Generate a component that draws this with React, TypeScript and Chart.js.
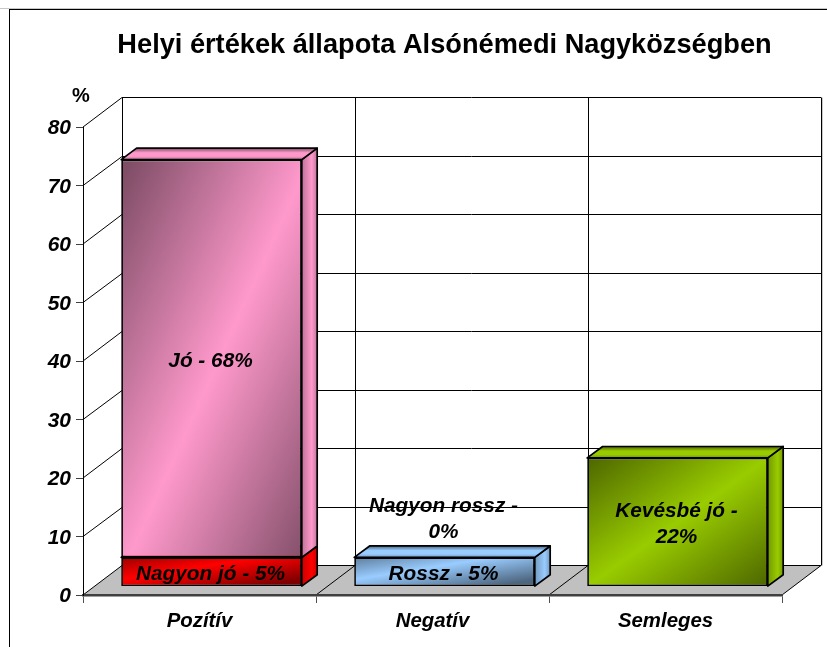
import React, { useEffect, useRef } from "react";
import { Chart, registerables } from "chart.js";

Chart.register(...registerables);

const categories = ["Pozítív", "Negatív", "Semleges"];
const yTicks = { min: 0, max: 80, step: 10 };
const chartTitle = "Helyi értékek állapota Alsónémedi Nagyközségben";
const yUnit = "%";

const nagyonJo = [5, null, null];
const jo = [68, null, null];
const rossz = [null, 5, null];
const nagyonRossz = [null, 0, null];
const kevesbeJo = [null, null, 22];

const seriesNames = ["Nagyon jó", "Jó", "Rossz", "Nagyon rossz", "Kevésbé jó"];
const seriesLabels = [["Nagyon jó - 5%"], ["Jó - 68%"], ["Rossz - 5%"], ["Nagyon rossz -", "0%"], ["Kevésbé jó -", "22%"]];
const seriesLight = ["#ff0000", "#ff99cc", "#99ccff", "#ff00ff", "#99cc00"];
const seriesDark = ["#7f0000", "#7f4d66", "#4d667f", "#7f007f", "#4d6600"];
const seriesMid = ["#cc0000", "#bf7399", "#7399bf", "#bf00bf", "#739900"];

const FONT = "'Liberation Sans', Arial, sans-serif";
// 3-D projection of the Excel-style chart
const WALL = { dx: 39, dy: -29 };
const BAR_FRONT = { dx: 12, dy: -8.4 };
const BAR_DEPTH = { dx: 15.4, dy: -11.4 };

function poly(ctx: CanvasRenderingContext2D, pts: number[][]) {
  ctx.beginPath();
  pts.forEach((p, i) => (i ? ctx.lineTo(p[0], p[1]) : ctx.moveTo(p[0], p[1])));
  ctx.closePath();
}

function antiDiagGradient(ctx: CanvasRenderingContext2D, l: number, t: number, r: number, b: number, dark: string, light: string) {
  const w = r - l, h = b - t, cx = (l + r) / 2, cy = (t + b) / 2;
  const k = (w * h) / (h * h + w * w);
  const g = ctx.createLinearGradient(cx - h * k, cy - w * k, cx + h * k, cy + w * k);
  g.addColorStop(0, dark);
  g.addColorStop(0.5, light);
  g.addColorStop(1, dark);
  return g;
}

const wallPlugin = {
  id: "wall",
  afterLayout(chart: any) {
    const tb = chart.titleBlock;
    if (tb) {
      const d = 444.5 - (tb.left + tb.right) / 2;
      tb.left += d;
      tb.right += d;
    }
  },
  beforeDraw(chart: any) {
    const { ctx, chartArea: a, scales } = chart;
    const ys = scales.y;
    ctx.save();
    ctx.fillStyle = "#ffffff";
    ctx.fillRect(0, 0, chart.width, chart.height);
    // frame
    ctx.fillStyle = "#c8c8c8";
    ctx.fillRect(0, 8, chart.width, 1);
    ctx.fillStyle = "#000000";
    ctx.fillRect(9, 9, chart.width - 9, 1);
    ctx.fillRect(9, 9, 1, chart.height - 9);

    const y0 = ys.getPixelForValue(0);
    const x0 = a.left, x1 = a.right;
    const snap = (v: number) => Math.round(v - 0.7) + 0.5;
    const topY = snap(ys.getPixelForValue(ys.max) + WALL.dy);
    const floorY = snap(y0 + WALL.dy);
    // faint line to the right of the back wall
    ctx.fillStyle = "#c8c8c8";
    ctx.fillRect(Math.round(x1 + WALL.dx) + 1, topY, 1, floorY - topY);
    // floor
    ctx.fillStyle = "#c0c0c0";
    poly(ctx, [[x0, y0], [x0 + WALL.dx, floorY], [x1 + WALL.dx, floorY], [x1, y0]]);
    ctx.fill();

    ctx.lineWidth = 1;
    ctx.strokeStyle = "#000000";
    const line = (ax: number, ay: number, bx: number, by: number) => {
      ctx.beginPath();
      ctx.moveTo(ax, ay);
      ctx.lineTo(bx, by);
      ctx.stroke();
    };
    // horizontal grid + side diagonals from the value scale
    ys.ticks.forEach((t: any) => {
      const y = ys.getPixelForValue(t.value);
      const wy = snap(y + WALL.dy);
      line(x0, y, x0 + WALL.dx, wy);
      line(x0 + WALL.dx, wy, x1 + WALL.dx, wy);
    });
    // verticals and floor diagonals from the category scale
    const step = (x1 - x0) / categories.length;
    for (let i = 0; i <= categories.length; i++) {
      const x = x0 + i * step;
      line(Math.round(x + WALL.dx) + 0.5, topY, Math.round(x + WALL.dx) + 0.5, floorY);
      if (i > 0) line(x, y0, x + WALL.dx, floorY);
    }
    ctx.restore();
  },
  beforeDatasetsDraw(chart: any) {
    const { ctx } = chart;
    // 3-D faces, drawn back to front, stack order
    chart.data.datasets.forEach((ds: any, di: number) => {
      const meta = chart.getDatasetMeta(di);
      meta.data.forEach((el: any, idx: number) => {
        if (ds.data[idx] === null || ds.data[idx] === undefined) return;
        const p = el.getProps(["x", "y", "base", "width"], true);
        const l = p.x - p.width / 2 + BAR_FRONT.dx, r = p.x + p.width / 2 + BAR_FRONT.dx;
        const t = p.y + BAR_FRONT.dy, b = p.base + BAR_FRONT.dy;
        const light = seriesLight[di], dark = seriesDark[di], mid = seriesMid[di];
        if (b - t < 0.5) return;
        el.options = { ...el.options, backgroundColor: antiDiagGradient(ctx, l, t, r, b, dark, light) };
        ctx.save();
        ctx.strokeStyle = "#000000";
        ctx.lineWidth = 1.7;
        ctx.lineJoin = "round";
        // side face
        const sg = ctx.createLinearGradient(r, 0, r + BAR_DEPTH.dx, 0);
        sg.addColorStop(0, mid);
        sg.addColorStop(0.65, light);
        sg.addColorStop(1, mid);
        ctx.fillStyle = sg;
        poly(ctx, [[r, t], [r + BAR_DEPTH.dx, t + BAR_DEPTH.dy], [r + BAR_DEPTH.dx, b + BAR_DEPTH.dy], [r, b]]);
        ctx.fill();
        ctx.stroke();
        // top face
        const tg = ctx.createLinearGradient(0, t + BAR_DEPTH.dy, 0, t);
        tg.addColorStop(0, dark);
        tg.addColorStop(0.4, light);
        tg.addColorStop(0.7, light);
        tg.addColorStop(1, mid);
        ctx.fillStyle = tg;
        poly(ctx, [[l, t], [l + BAR_DEPTH.dx, t + BAR_DEPTH.dy], [r + BAR_DEPTH.dx, t + BAR_DEPTH.dy], [r, t]]);
        ctx.fill();
        ctx.stroke();
        ctx.restore();
      });
    });
    ctx.save();
    ctx.translate(BAR_FRONT.dx, BAR_FRONT.dy);
  },
  afterDatasetsDraw(chart: any) {
    const { ctx } = chart;
    ctx.restore();
    // segment labels
    ctx.save();
    ctx.font = `italic bold 20.8px ${FONT}`;
    ctx.fillStyle = "#000000";
    ctx.textAlign = "center";
    ctx.textBaseline = "middle";
    const lh = 26.5;
    chart.data.datasets.forEach((ds: any, di: number) => {
      const meta = chart.getDatasetMeta(di);
      meta.data.forEach((el: any, idx: number) => {
        if (ds.data[idx] === null || ds.data[idx] === undefined) return;
        const p = el.getProps(["x", "y", "base"], true);
        const lines = seriesLabels[di];
        const zero = Math.abs(p.base - p.y) < 0.5;
        const cy = zero ? p.y + BAR_FRONT.dy - 38 : (p.y + p.base) / 2 + BAR_FRONT.dy + 2.5;
        lines.forEach((s, i) => {
          ctx.fillText(s, p.x + BAR_FRONT.dx - 1, cy + (i - (lines.length - 1) / 2) * lh);
        });
      });
    });
    // axis unit
    ctx.font = `bold 20px ${FONT}`;
    ctx.fillText(yUnit, 81, 96);
    ctx.restore();
  },
};

export default function App() {
  const ref = useRef<HTMLCanvasElement>(null);
  useEffect(() => {
    const seriesData = [nagyonJo, jo, rossz, nagyonRossz, kevesbeJo];
    const chart = new Chart(ref.current as HTMLCanvasElement, {
      type: "bar",
      data: {
        labels: categories,
        datasets: seriesNames.map((name, i) => ({
          label: name,
          data: seriesData[i],
          backgroundColor: seriesLight[i],
          borderColor: "#000000",
          borderWidth: 1.7,
          borderSkipped: false,
          categoryPercentage: 1,
          barPercentage: 0.775,
          clip: false,
        })),
      } as any,
      options: {
        animation: false,
        responsive: false,
        devicePixelRatio: 1,
        layout: { padding: { left: 0, right: 45, top: 0, bottom: 0 } },
        plugins: {
          legend: { display: false },
          tooltip: { enabled: false },
          title: {
            display: true,
            text: chartTitle,
            color: "#000000",
            font: { family: FONT, size: 27.2, weight: "bold" },
            padding: { top: 29, bottom: 65.4 },
          },
        },
        scales: {
          x: {
            stacked: true,
            afterFit: (s: any) => { s.height = 52; },
            border: { display: true, color: "#404040", width: 2.5 },
            grid: { drawOnChartArea: false, drawTicks: true, tickLength: 8, color: "#505050", lineWidth: 1, offset: true },
            ticks: { color: "#000000", padding: 6, maxRotation: 0, font: { family: FONT, size: 20.4, weight: "bold", style: "italic" } },
          },
          y: {
            stacked: true,
            min: yTicks.min,
            max: yTicks.max,
            afterFit: (s: any) => { s.width = 83; },
            border: { display: true, color: "#000000", width: 1 },
            grid: { drawOnChartArea: false, drawTicks: true, tickLength: 7, color: "#404040", lineWidth: 1 },
            ticks: { stepSize: yTicks.step, color: "#000000", padding: 5, labelOffset: 1.5, font: { family: FONT, size: 21, weight: "bold", style: "italic" } },
          },
        },
      } as any,
      plugins: [wallPlugin as any],
    });
    return () => chart.destroy();
  }, []);
  return (
    <div style={{ position: "fixed", left: 0, top: 0, width: 827, height: 647, background: "#fff" }}>
      <canvas ref={ref} width={827} height={647} style={{ display: "block", width: 827, height: 647 }} />
    </div>
  );
}
